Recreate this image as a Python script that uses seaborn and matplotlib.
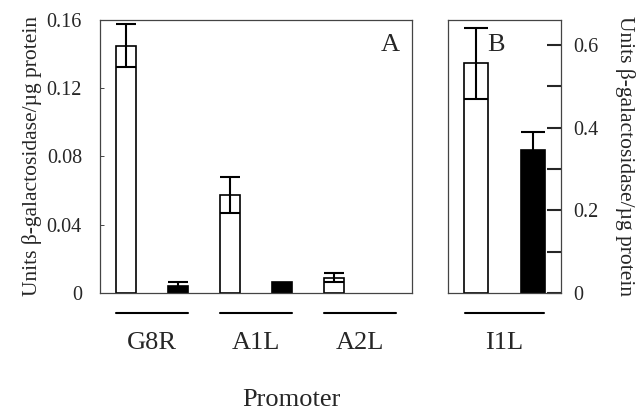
import numpy as np
import pandas as pd
import matplotlib
matplotlib.use("Agg")
import matplotlib.pyplot as plt
import seaborn as sns

# panel A data (white = first bar, black = second bar of each promoter)
promoters_a = ["G8R", "A1L", "A2L"]
white_a = [0.145, 0.0575, 0.009]
white_a_err = [0.0125, 0.0105, 0.0028]
black_a = [0.0042, 0.0065, 0.0]
black_a_err = [0.0022, 0.0, 0.0]

# panel B data
promoters_b = ["I1L"]
white_b = [0.555]
white_b_err = [0.085]
black_b = [0.345]
black_b_err = [0.045]

sns.set_style("ticks")
plt.rcParams["font.family"] = ["Liberation Serif", "DejaVu Serif"]

ylabel = "Units \u03b2-galactosidase/\u00b5g protein"


def build(promoters, white, werr, black, berr):
    rows = []
    for p, w, we, b, be in zip(promoters, white, werr, black, berr):
        rows.append({"slot": p + "_w", "value": w, "err": we, "fill": "white"})
        rows.append({"slot": p + "_b", "value": b, "err": be, "fill": "black"})
    return pd.DataFrame(rows)


df_a = build(promoters_a, white_a, white_a_err, black_a, black_a_err)
df_b = build(promoters_b, white_b, white_b_err, black_b, black_b_err)

fig = plt.figure(figsize=(6.44, 4.17), dpi=100)
ax_a = fig.add_axes([0.1553, 0.2974, 0.4845, 0.6547])
ax_b = fig.add_axes([0.6957, 0.2974, 0.1755, 0.6547])


def draw(ax, df, width, capsize):
    sns.barplot(data=df, x="slot", y="value", hue="slot", palette=list(df["fill"]),
                order=list(df["slot"]), errorbar=None, width=width, legend=False,
                edgecolor="black", linewidth=1.2, ax=ax)
    for patch in ax.patches:
        if patch.get_height() == 0:
            patch.set_linewidth(0)
    xs = np.arange(len(df))
    for x, v, e in zip(xs, df["value"], df["err"]):
        if e > 0:
            ax.errorbar(x, v, yerr=e, fmt="none", ecolor="black", elinewidth=1.5,
                        capsize=capsize, capthick=1.5)
    ax.set_xlim(-0.5, len(df) - 0.5)
    ax.set_xlabel("")
    ax.set_xticks([])
    for s in ax.spines.values():
        s.set_linewidth(0.9)
        s.set_color("#444444")


draw(ax_a, df_a, 0.4, 7.5)
draw(ax_b, df_b, 0.43, 8.5)

# panel A axis
ax_a.set_ylim(0, 0.16)
ax_a.set_yticks([0, 0.04, 0.08, 0.12, 0.16])
ax_a.set_yticklabels(["0", "0.04", "0.08", "0.12", "0.16"])
ax_a.tick_params(axis="y", direction="in", length=3, width=0.6, labelsize=14.5, pad=13)
ax_a.set_ylabel(ylabel, fontsize=15.5, labelpad=3)
ax_a.text(0.96, 0.95, "A", transform=ax_a.transAxes, ha="right", va="top", fontsize=19)

# panel B axis on the right
ax_b.set_ylim(0, 0.66)
ax_b.yaxis.tick_right()
ax_b.yaxis.set_label_position("right")
ax_b.set_yticks([0, 0.2, 0.4, 0.6])
ax_b.set_yticklabels(["0", "0.2", "0.4", "0.6"])
ax_b.set_yticks([0.1, 0.3, 0.5], minor=True)
ax_b.tick_params(axis="y", which="both", direction="in", length=10, width=1.5,
                 labelsize=14.5, pad=9)
ax_b.set_ylabel(ylabel, fontsize=15.5, rotation=270, labelpad=26)
ax_b.text(0.42, 0.95, "B", transform=ax_b.transAxes, ha="center", va="top", fontsize=19)

# group underlines and labels
for ax, promoters in [(ax_a, promoters_a), (ax_b, promoters_b)]:
    for i, p in enumerate(promoters):
        x0, x1 = 2 * i - 0.2, 2 * i + 1.2
        ax.plot([x0, x1], [-0.074, -0.074], transform=ax.get_xaxis_transform(),
                color="black", lw=1.5, clip_on=False)
        ax.text(2 * i + 0.5, -0.185, p, transform=ax.get_xaxis_transform(),
                ha="center", va="center", fontsize=19)

fig.text(0.453, 0.04, "Promoter", ha="center", va="center", fontsize=19)

fig.savefig("out.png", dpi=100)
